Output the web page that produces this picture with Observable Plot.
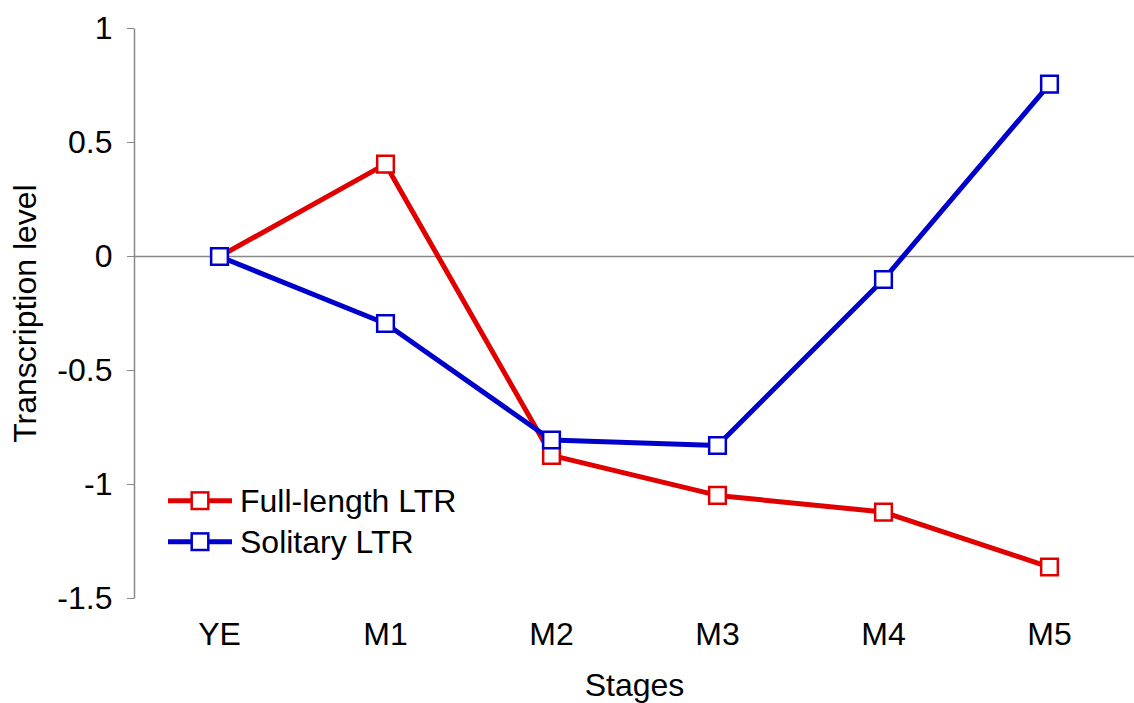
<!DOCTYPE html>
<html>
<head>
<meta charset="utf-8">
<script src="https://cdn.jsdelivr.net/npm/d3@7"></script>
<script src="https://cdn.jsdelivr.net/npm/@observablehq/plot@0.6"></script>
<style>
  html, body { margin: 0; padding: 0; background: #fff; }
  #wrap { position: relative; width: 1134px; height: 703px; overflow: hidden; font-family: "Liberation Sans", Arial, Helvetica, sans-serif; }
  #wrap svg { display: block; }
  g[aria-label="y-axis tick"], g[aria-label="y-axis tick"] * { stroke: #888; }
  g[aria-label="y-axis"] line, g[aria-label="y-axis"] path { stroke: #888; }
</style>
</head>
<body>
<div id="wrap"></div>
<script>
const stages = ["YE", "M1", "M2", "M3", "M4", "M5"];
const fullLength = [0, 0.405, -0.872, -1.048, -1.121, -1.362];
const solitary = [0, -0.294, -0.805, -0.829, -0.101, 0.756];
const yTicks = [1, 0.5, 0, -0.5, -1, -1.5];
const seriesNames = ["Full-length LTR", "Solitary LTR"];
const seriesColors = ["#e00000", "#0000cc"];

const rows = [];
[fullLength, solitary].forEach((vals, s) => {
  vals.forEach((v, i) => rows.push({stage: stages[i], value: v, series: seriesNames[s]}));
});

const W = 1134, H = 703, mL = 134, mR = 0, mT = 28, mB = 105;
const fw = W - mL - mR, fh = H - mT - mB;
const font = "'Liberation Sans', Arial, Helvetica, sans-serif";
const fs = 32;

const marks = [
  Plot.ruleY([0], {stroke: "#888", strokeWidth: 1.5}),
  Plot.frame({stroke: "#888", strokeWidth: 1.5, strokeDasharray: `0 ${2 * fw + fh} ${fh}`}),
];
seriesNames.forEach((name, s) => {
  const d = rows.filter(r => r.series === name);
  marks.push(Plot.line(d, {x: "stage", y: "value", stroke: seriesColors[s], strokeWidth: 5, strokeLinejoin: "miter"}));
  marks.push(Plot.dot(d, {x: "stage", y: "value", symbol: "square", r: 9.4, fill: "white", stroke: seriesColors[s], strokeWidth: 2.5}));
});
marks.push(Plot.text(["Stages"], {frameAnchor: "bottom", dy: 87, fontSize: fs, fill: "black", lineAnchor: "middle", textAnchor: "middle"}));
marks.push(Plot.text(["Transcription level"], {frameAnchor: "left", dx: -109, rotate: -90, fontSize: fs, fill: "black", lineAnchor: "middle", textAnchor: "middle"}));

const chart = Plot.plot({
  width: W, height: H,
  marginLeft: mL, marginRight: mR, marginTop: mT, marginBottom: mB,
  style: {fontFamily: font, fontSize: fs + "px", color: "black", background: "white", overflow: "visible"},
  x: {type: "point", domain: stages, padding: 0.5, align: 0.5, tickSize: 0, tickPadding: 24, label: null},
  y: {domain: [-1.5, 1], ticks: yTicks, tickFormat: d => String(d), tickSize: 7, tickPadding: 15, label: null},
  marks
});
document.getElementById("wrap").appendChild(chart);

// legend
const ns = "http://www.w3.org/2000/svg";
const leg = document.createElementNS(ns, "svg");
leg.setAttribute("width", 340);
leg.setAttribute("height", 100);
leg.style.position = "absolute";
leg.style.left = "160px";
leg.style.top = "470px";
seriesNames.forEach((name, s) => {
  const cy = 30.7 + s * 41;
  const line = document.createElementNS(ns, "line");
  line.setAttribute("x1", 8); line.setAttribute("x2", 72);
  line.setAttribute("y1", cy); line.setAttribute("y2", cy);
  line.setAttribute("stroke", seriesColors[s]); line.setAttribute("stroke-width", 5);
  leg.appendChild(line);
  const rect = document.createElementNS(ns, "rect");
  rect.setAttribute("x", 40 - 8.3); rect.setAttribute("y", cy - 8.3);
  rect.setAttribute("width", 16.6); rect.setAttribute("height", 16.6);
  rect.setAttribute("fill", "white"); rect.setAttribute("stroke", seriesColors[s]); rect.setAttribute("stroke-width", 2.5);
  leg.appendChild(rect);
  const t = document.createElementNS(ns, "text");
  t.setAttribute("x", 80); t.setAttribute("y", cy + 11.5);
  t.setAttribute("font-size", fs); t.setAttribute("font-family", font); t.setAttribute("fill", "black");
  t.textContent = name;
  leg.appendChild(t);
});
document.getElementById("wrap").appendChild(leg);
</script>
</body>
</html>
